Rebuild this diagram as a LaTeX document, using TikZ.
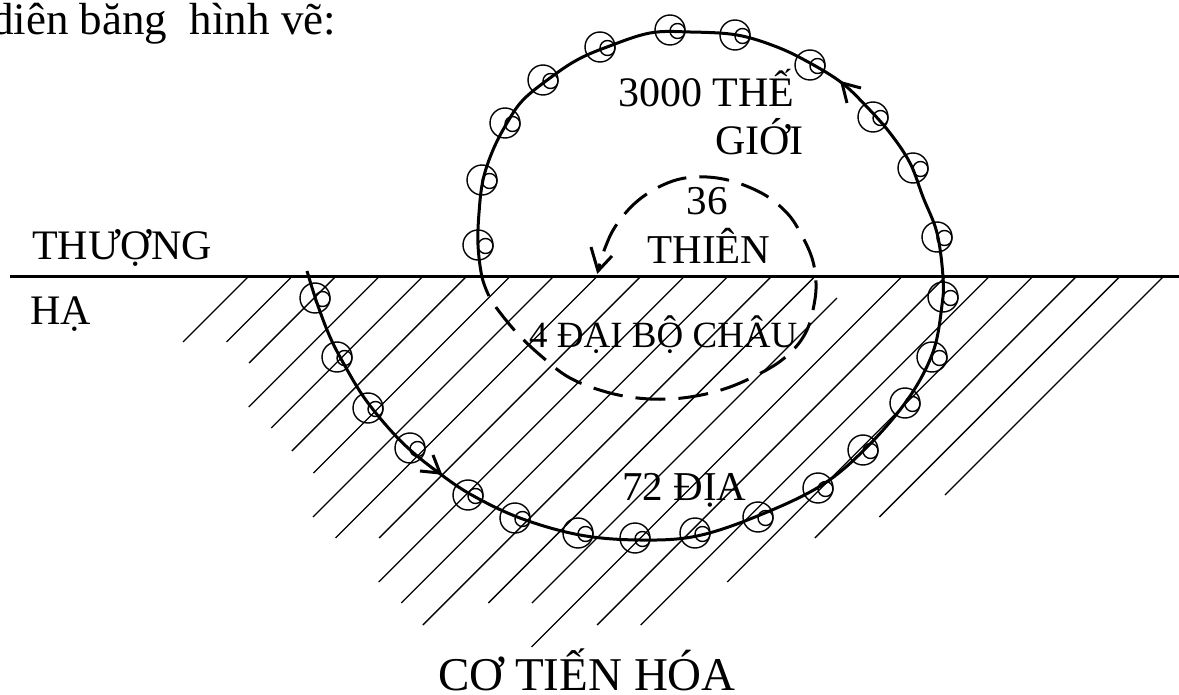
\documentclass[tikz,border=0pt]{standalone}
\usepackage{fontspec}
\setmainfont{Liberation Serif}
\newcommand\myfs[1]{\fontsize{#1pt}{#1pt}\selectfont}
\tikzset{
  hatch/.style={line width=1.3pt},
  groundline/.style={line width=3pt},
  solidpath/.style={line width=3pt, line join=round},
  dashpath/.style={line width=3pt, dash pattern=on 30pt off 13pt, dash phase=30pt},
  barb/.style={line width=3pt, line join=miter},
  ptc/.style={line width=1.4pt},
  lbl/.style={inner sep=0pt, anchor=base west},
}
\begin{document}
\begin{tikzpicture}[x=1pt,y=-1pt]
\useasboundingbox (0,0) rectangle (1179,695);
% hatching
\foreach \i/\s/\L in {0/0/65,1/0/65,2/0/86,3/0/130,4/0/151,5/0/174,6/0/196,7/0/240,8/0/261,9/0/261,10/0/305,11/0/326,12/0/348,13/0/326,14/21/326,15/0/370,16/0/348,17/0/348,18/0/305,19/0/261,20/0/240,21/0/218}
  \draw[hatch] ({248+43.57*\i-\s},{277+\s}) -- ({248+43.57*\i-\L},{277+\L});
% ground line
\coordinate (gl) at (10,277);
\coordinate (gr) at (1179,277);
\draw[groundline] (gl) -- (gr);
% main solid spiral
\draw[solidpath] plot[smooth, tension=0.6] coordinates {
 (307,271) (317,303) (330,337) (345,366) (363,396) (385,424) (408,448) (435,470)
 (470,494) (520,518) (580,535) (640,540) (697,536) (760,515) (822,485) (867,447)
 (908,399) (933,352) (942,305) (943,277) (937,233) (923,197) (910,163) (890,133)
 (867,107) (842,83) (810,63) (777,47) (737,35) (690,32) (650,33) (607,47) (577,60)
 (550,78) (523,100) (507,123) (493,150) (483,180) (479,213) (478,245) (482,277) (489,296)};
% dashed inner spiral
\draw[dashpath] plot[smooth, tension=0.6] coordinates {
 (489,296) (498,310) (517,333) (540,355) (570,378) (610,393) (650,399) (690,397)
 (730,387) (770,368) (793,350) (807,330) (814,305) (816,283) (812,258) (800,232)
 (787,213) (765,195) (735,182) (707,177) (680,179) (655,189) (633,205) (615,227)
 (605,248) (598,270)};
% arrowheads
\draw[barb] (420,471) -- (440,473) -- (433,455);
\draw[barb] (861,88) -- (842,83) -- (847,103);
\draw[barb] (591,247) -- (598,271) -- (612,256);
% particles
\foreach \x/\y in {478/245,482/180,505/123,543/80,600/47,670/30,735/35,810/65,873/117,913/168,937/237,
  315/298,337/357,368/408,410/448,468/495,515/518,578/533,635/538,695/533,758/517,818/488,863/450,905/403,932/357,943/297}
  {\draw[ptc] (\x,\y) circle[radius=15];
   \draw[ptc] ({\x+7.5},{\y+1}) circle[radius=7.5];}
% labels
\node[lbl] (intro) at (-9,35) {\myfs{45}diên băng\ \ hình vẽ:};
\node[lbl] (thuong) at (32,260) {\myfs{42}THƯỢNG};
\node[lbl] (ha) at (30,325) {\myfs{42}HẠ};
\node[lbl] (the) at (618,107) {\myfs{42}3000 THẾ};
\node[lbl] (gioi) at (715,155) {\myfs{42}GIỚI};
\node[inner sep=0pt, anchor=base] (n36) at (707,215) {\myfs{41}36};
\node[inner sep=0pt, anchor=base] (thien) at (709,264) {\myfs{41}THIÊN};
\node[lbl] (chau) at (529,348) {\myfs{37}4 ĐẠI BỘ CHÂU};
\node[lbl] (dia) at (622,500) {\myfs{41}72 ĐỊA};
\node[lbl] (tienhoa) at (438,690) {\myfs{47}CƠ TIẾN HÓA};
\end{tikzpicture}
\end{document}
